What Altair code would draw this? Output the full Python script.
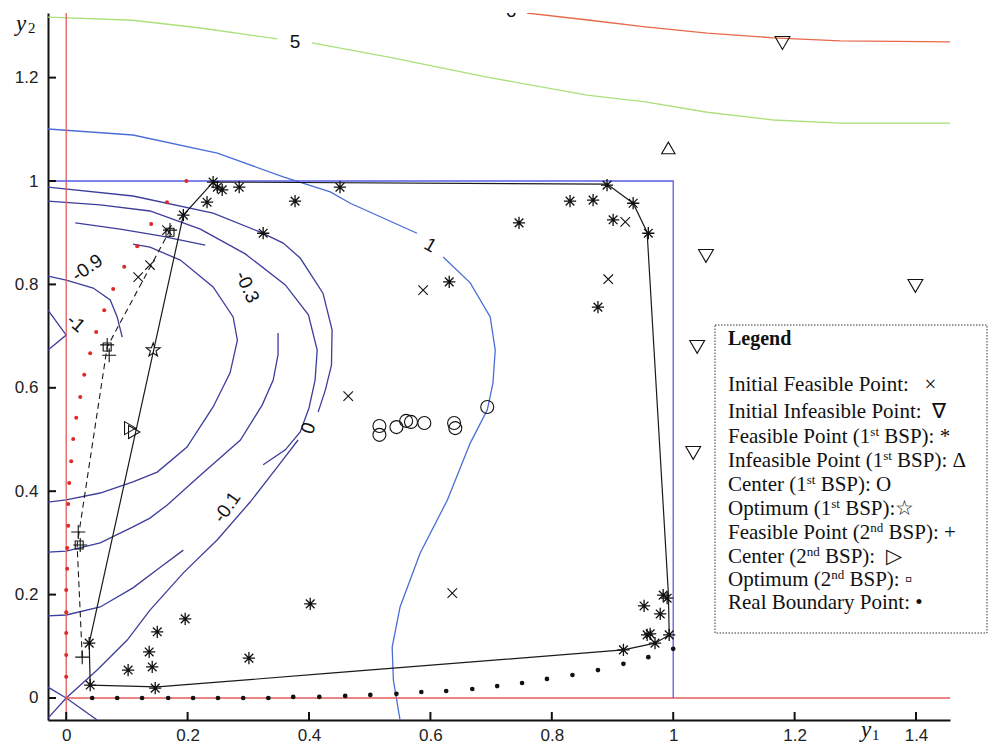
import altair as alt
import pandas as pd

# ---------------------------------------------------------------- axes
W, H = 902, 707
X_DOMAIN = [-0.03, 1.456]
Y_DOMAIN = [-0.0426, 1.325]
x_ticks = [0, 0.2, 0.4, 0.6, 0.8, 1, 1.2, 1.4]
y_ticks = [0, 0.2, 0.4, 0.6, 0.8, 1, 1.2]

# ---------------------------------------------------------------- contour levels (y1, y2)
# each level is split where its inline label interrupts the line
lvl_0_lower = [(-0.03, -0.039), (0, 0), (0.051, 0.054), (0.1005, 0.112), (0.138, 0.170),
               (0.193, 0.242), (0.249, 0.306), (0.303, 0.379), (0.348, 0.447), (0.382, 0.499)]
lvl_0_upper = [(0.415, 0.553), (0.427, 0.596), (0.437, 0.644), (0.438, 0.712), (0.423, 0.783),
               (0.3855, 0.851), (0.3575, 0.880), (0.320, 0.901), (0.242, 0.938), (0.110, 0.971),
               (-0.03, 0.988)]
lvl_0_cross = [(-0.03, 0.021), (0, 0), (0.051, -0.0426)]
lvl_m01_lower = [(-0.03, 0.159), (0, 0.1605), (0.056, 0.176), (0.110, 0.213), (0.155, 0.253),
                 (0.193, 0.286)]
lvl_m01_upper = [(0.3245, 0.451), (0.361, 0.480), (0.3855, 0.5145), (0.400, 0.561), (0.410, 0.615),
                 (0.4135, 0.673), (0.399, 0.741), (0.361, 0.799), (0.295, 0.859), (0.221, 0.907),
                 (0.138, 0.942), (0.056, 0.954), (-0.03, 0.961)]
lvl_m03_lower = [(-0.03, 0.282), (0, 0.284), (0.056, 0.300), (0.110, 0.331), (0.138, 0.348),
                 (0.166, 0.373), (0.221, 0.431), (0.287, 0.499), (0.323, 0.567), (0.341, 0.615),
                 (0.349, 0.664), (0.349, 0.706)]
lvl_m03_upper = [(0.229, 0.876), (0.155, 0.894), (0.089, 0.907), (0.015, 0.919)]
lvl_m05 = [(-0.03, 0.379), (0, 0.383), (0.056, 0.3965), (0.110, 0.418), (0.150, 0.437),
           (0.199, 0.4855), (0.242, 0.563), (0.270, 0.629), (0.282, 0.692), (0.275, 0.737),
           (0.242, 0.795), (0.188, 0.847), (0.138, 0.872), (0.110, 0.878)]
lvl_m09 = [(-0.03, 0.816), (0, 0.8085), (0.0445, 0.793), (0.0725, 0.770), (0.084, 0.737),
           (0.0923, 0.698)]
lvl_m1 = [(-0.03, 0.750), (0, 0.702), (-0.03, 0.673)]
lvl_1_a = [(-0.03, 1.1006), (0.110, 1.089), (0.249, 1.054), (0.3575, 1.008), (0.435, 0.979),
           (0.468, 0.957), (0.578, 0.899)]
lvl_1_b = [(0.621, 0.853), (0.6656, 0.803), (0.6985, 0.737), (0.7068, 0.673), (0.703, 0.609),
           (0.6936, 0.557), (0.6656, 0.493), (0.628, 0.383), (0.583, 0.280), (0.550, 0.176),
           (0.537, 0.0986), (0.539, 0.0348), (0.550, -0.0426)]
lvl_5_a = [(-0.03, 1.317), (0.110, 1.311), (0.221, 1.296), (0.348, 1.275)]
lvl_5_b = [(0.405, 1.267), (0.529, 1.240), (0.6936, 1.201), (0.858, 1.166), (0.954, 1.153),
           (1.056, 1.133), (1.165, 1.118), (1.275, 1.112), (1.46, 1.112)]
lvl_6 = [(0.759, 1.325), (0.863, 1.311), (0.954, 1.298), (1.056, 1.286), (1.165, 1.277),
         (1.275, 1.271), (1.46, 1.269)]

# constraint boundaries
bound_y1_zero = [(0, -0.0426), (0, 1.325)]
bound_y2_zero = [(0, 0), (1.456, 0)]
box_edge = [(-0.03, 1), (1, 1), (1, 0)]

# partition hulls: first BSP (solid) and second BSP (dashed)
bsp1_hull = [(0.242, 0.998), (0.891, 0.994), (0.934, 0.957), (0.957, 0.901), (0.992, 0.203),
             (0.9934, 0.122), (0.970, 0.106), (0.918, 0.093), (0.435, 0.048), (0.150, 0.0213),
             (0.0395, 0.025), (0.0379, 0.106), (0.193, 0.934), (0.242, 0.998)]
bsp2_path = [(0.0264, 0.079), (0.018, 0.296), (0.0675, 0.679), (0.171, 0.905)]

# ---------------------------------------------------------------- sample points
init_feasible = [(0.1186, 0.814), (0.138, 0.8375), (0.588, 0.789), (0.4646, 0.584),
                 (0.893, 0.810), (0.921, 0.921), (0.636, 0.203), (0.166, 0.905)]
init_infeasible = [(1.180, 1.267), (1.054, 0.855), (1.399, 0.797), (1.0395, 0.679), (1.033, 0.474)]
bsp1_feasible = [(0.242, 0.998), (0.249, 0.988), (0.257, 0.983), (0.285, 0.988), (0.232, 0.959),
                 (0.193, 0.934), (0.377, 0.961), (0.3245, 0.899), (0.451, 0.988), (0.631, 0.805),
                 (0.746, 0.919), (0.830, 0.961), (0.868, 0.963), (0.891, 0.992), (0.901, 0.925),
                 (0.934, 0.957), (0.959, 0.899), (0.876, 0.756),
                 (0.0379, 0.106), (0.0395, 0.025), (0.102, 0.054), (0.1367, 0.089), (0.1417, 0.060),
                 (0.1466, 0.019), (0.150, 0.128), (0.196, 0.153), (0.301, 0.077), (0.402, 0.182),
                 (0.9835, 0.199), (0.990, 0.193), (0.952, 0.178), (0.9786, 0.1625), (0.957, 0.122),
                 (0.962, 0.124), (0.970, 0.106), (0.9934, 0.122), (0.918, 0.093)]
bsp1_infeasible = [(0.992, 1.064)]
bsp1_center = [(0.516, 0.526), (0.516, 0.509), (0.544, 0.524), (0.560, 0.536), (0.568, 0.534),
               (0.590, 0.532), (0.639, 0.532), (0.641, 0.522), (0.6936, 0.563)]
bsp1_optimum = [(0.1433, 0.673)]
bsp2_feasible = [(0.0264, 0.079), (0.0198, 0.321), (0.0231, 0.296), (0.0675, 0.683),
                 (0.0708, 0.663), (0.171, 0.905)]
bsp2_center = [(0.1054, 0.522), (0.112, 0.5145)]
bsp2_optimum = [(0.0214, 0.296), (0.0675, 0.679), (0.171, 0.901)]
boundary_left = [(0.198, 1.000), (0.166, 0.959), (0.140, 0.917), (0.117, 0.874), (0.0956, 0.834),
                 (0.0774, 0.791), (0.0626, 0.750), (0.0494, 0.708), (0.0395, 0.667), (0.0297, 0.625),
                 (0.0231, 0.582), (0.0165, 0.542), (0.0115, 0.501), (0.0082, 0.458), (0.0049, 0.416),
                 (0.0033, 0.375), (0.0033, 0.333), (0.0016, 0.290), (0.0016, 0.250), (0, 0.209),
                 (0, 0.166), (0, 0.1257), (0, 0.083), (0, 0.041)]
boundary_bottom_y1 = [0.0428, 0.084, 0.125, 0.168, 0.209, 0.250, 0.2916, 0.333, 0.374, 0.417,
                      0.4596, 0.501, 0.544, 0.585, 0.626, 0.669, 0.710, 0.751, 0.792, 0.834,
                      0.876, 0.918, 0.959, 1.0]
boundary_bottom_y2 = [0, 0, 0, 0, 0, 0, 0, 0, 0.002, 0.002, 0.004, 0.006, 0.008, 0.0116, 0.0135,
                      0.0174, 0.023, 0.029, 0.0368, 0.0445, 0.054, 0.066, 0.079, 0.095]

# inline contour labels
label_text = ["-1", "-0.9", "-0.3", "-0.1", "0", "1", "5"]
label_y1 = [0.016, 0.0346, 0.298, 0.265, 0.399, 0.600, 0.377]
label_y2 = [0.725, 0.832, 0.795, 0.369, 0.522, 0.876, 1.269]
label_angle = [40, 325, 65, 305, 290, 30, 0]

# legend entries: (text before superscript, superscript, text after)
NB = "\u00a0"
legend_rows = [
    ("Initial Feasible Point:" + NB * 3 + "\u00d7", "", ""),
    ("Initial Infeasible Point:" + NB * 2 + "\u2207", "", ""),
    ("Feasible Point (1", "st", "BSP): *"),
    ("Infeasible Point (1", "st", "BSP): \u0394"),
    ("Center (1", "st", "BSP): O"),
    ("Optimum (1", "st", "BSP):\u2606"),
    ("Feasible Point (2", "nd", "BSP): +"),
    ("Center (2", "nd", "BSP):" + NB * 2 + "\u25b7"),
    ("Optimum (2", "nd", "BSP): \u25ab"),
    ("Real Boundary Point: \u2022", "", ""),
]
legend_py = [371, 398, 423, 447, 471, 495, 519, 543, 566, 589]

# ---------------------------------------------------------------- helpers
XS = alt.Scale(domain=X_DOMAIN, nice=False, zero=False)
YS = alt.Scale(domain=Y_DOMAIN, nice=False, zero=False)
SANS = "Liberation Sans"
SERIF = "Liberation Serif"
LEG_FS = 21
SUP_FS = 13

# Times-compatible advance widths (per 1000 em) for laying out superscripts
TIMES_W = {" ": 250, "(": 333, "1": 500, "2": 500, "C": 667, "F": 556, "I": 333, "O": 722,
           "P": 556, "a": 444, "b": 500, "d": 500, "e": 444, "f": 333, "i": 278, "l": 278,
           "m": 778, "n": 500, "o": 500, "p": 500, "r": 333, "s": 389, "t": 278, "u": 500}


def text_width(s, size):
    return sum(TIMES_W.get(ch, 500) for ch in s) * size / 1000.0


X_AXIS = alt.Axis(values=x_ticks, format="~g", title=None, ticks=False, grid=False,
                  domainColor="#111", domainWidth=2, labelFont=SANS, labelFontSize=17,
                  labelColor="#222", labelPadding=7, labelFlush=False)
Y_AXIS = alt.Axis(values=y_ticks, format="~g", title=None, ticks=False, grid=False,
                  domainColor="#111", domainWidth=2, labelFont=SANS, labelFontSize=17,
                  labelColor="#222", labelPadding=10, labelFlush=False)


def pts_df(pts):
    return pd.DataFrame(pts, columns=["y1", "y2"])


def path_df(pts):
    df = pts_df(pts)
    df["i"] = range(len(df))
    return df


def xy():
    return dict(x=alt.X("y1:Q", scale=XS, axis=X_AXIS), y=alt.Y("y2:Q", scale=YS, axis=Y_AXIS))


line_sets = [
    ("l0a", "dark", lvl_0_lower), ("l0b", "dark", lvl_0_upper), ("l0c", "dark", lvl_0_cross),
    ("m01a", "dark", lvl_m01_lower), ("m01b", "dark", lvl_m01_upper),
    ("m03a", "dark", lvl_m03_lower), ("m03b", "dark", lvl_m03_upper),
    ("m05", "dark", lvl_m05), ("m09", "dark", lvl_m09), ("m1", "dark", lvl_m1),
    ("l1a", "level1", lvl_1_a), ("l1b", "level1", lvl_1_b),
    ("l5a", "level5", lvl_5_a), ("l5b", "level5", lvl_5_b), ("l6", "level6", lvl_6),
    ("bx", "bound", bound_y1_zero), ("by", "bound", bound_y2_zero), ("box", "box", box_edge),
]
rows = []
for seg, style, pts in line_sets:
    for i, (a, b) in enumerate(pts):
        rows.append({"seg": seg, "style": style, "i": i, "y1": a, "y2": b})
lines_df = pd.DataFrame(rows)

contours = alt.Chart(lines_df).mark_line(strokeWidth=1.3, clip=True).encode(
    **xy(),
    color=alt.Color("style:N", legend=None, scale=alt.Scale(
        domain=["dark", "level1", "level5", "level6", "bound", "box"],
        range=["#3d3d9c", "#4a6ed6", "#abe07a", "#e8694a", "#e45c5c", "#5b5be6"])),
    detail="seg:N",
    order="i:Q",
)

hull = alt.Chart(path_df(bsp1_hull)).mark_line(color="#1a1a1a", strokeWidth=1.2).encode(
    **xy(), order="i:Q")
path2 = alt.Chart(path_df(bsp2_path)).mark_line(color="#1a1a1a", strokeWidth=1.1,
                                                strokeDash=[6, 4]).encode(**xy(), order="i:Q")

STAR8 = "M-1,0L1,0M0,-1L0,1M-0.71,-0.71L0.71,0.71M-0.71,0.71L0.71,-0.71"
XMARK = "M-1,-1L1,1M-1,1L1,-1"
PLUS = "M-1,0L1,0M0,-1L0,1"
STAR5 = ("M0,-1L0.235,-0.324L0.951,-0.309L0.380,0.124L0.588,0.809L0,0.4L-0.588,0.809"
         "L-0.380,0.124L-0.951,-0.309L-0.235,-0.324Z")


def markers(pts, shape, size, filled=False, color="#111", sw=1.1):
    return alt.Chart(pts_df(pts)).mark_point(
        shape=shape, size=size, filled=filled, color=color, strokeWidth=sw, opacity=1
    ).encode(**xy())


bottom_df = pd.DataFrame({"y1": boundary_bottom_y1, "y2": boundary_bottom_y2})
dots_bottom = alt.Chart(bottom_df).mark_circle(size=22, color="#111", opacity=1).encode(**xy())
dots_left = alt.Chart(pts_df(boundary_left)).mark_circle(size=16, color="#e02828", opacity=1).encode(**xy())

labels_df = pd.DataFrame({"y1": label_y1, "y2": label_y2, "txt": label_text, "ang": label_angle})
labels = alt.Chart(labels_df).mark_text(font=SANS, fontSize=19, color="#111").encode(
    **xy(), text="txt:N", angle=alt.Angle("ang:Q", scale=None))
label6 = alt.Chart(pd.DataFrame({"y1": [0.733], "y2": [1.31], "txt": ["6"]})).mark_text(
    font=SANS, fontSize=19, color="#111", baseline="bottom", clip=True).encode(**xy(), text="txt:N")

# inward tick marks on both axes
xt = alt.Chart(pd.DataFrame({"y1": x_ticks})).mark_rule(color="#111", strokeWidth=2).encode(
    x=alt.X("y1:Q", scale=XS, axis=X_AXIS), y=alt.value(H), y2=alt.value(H - 8))
yt = alt.Chart(pd.DataFrame({"y2": y_ticks})).mark_rule(color="#111", strokeWidth=2).encode(
    y=alt.Y("y2:Q", scale=YS, axis=Y_AXIS), x=alt.value(0), x2=alt.value(8))


def note(txt, px, py, **kw):
    return alt.Chart(pd.DataFrame({"k": [0]})).mark_text(**kw).encode(
        x=alt.value(px), y=alt.value(py), text=alt.value(txt))


t_y = note("y", -27, 18, font=SERIF, fontSize=23, fontStyle="italic", color="#111", baseline="alphabetic")
t_y2 = note("2", -20, 20, font=SERIF, fontSize=15, color="#111", align="left", baseline="alphabetic")
t_x = note("y", 818, 724, font=SERIF, fontSize=23, fontStyle="italic", color="#111", baseline="alphabetic")
t_x1 = note("1", 824, 727, font=SERIF, fontSize=15, color="#111", align="left", baseline="alphabetic")

LEG_X = 680
legend_box = alt.Chart(pd.DataFrame({"k": [0]})).mark_rect(
    fill="white", stroke="#333", strokeWidth=1, strokeDash=[1.5, 1.5]).encode(
    x=alt.value(667), x2=alt.value(939), y=alt.value(312), y2=alt.value(620))
legend_title = note("Legend", LEG_X, 326, font=SERIF, fontSize=20, fontWeight="bold",
                    color="#111", align="left")
legend_parts = []
for (pre, sup, post), py in zip(legend_rows, legend_py):
    legend_parts.append(note(pre, LEG_X, py, font=SERIF, fontSize=LEG_FS, color="#111",
                             align="left", baseline="alphabetic", dy=7))
    if sup:
        x_sup = LEG_X + text_width(pre, LEG_FS)
        legend_parts.append(note(sup, x_sup, py - 7, font=SERIF, fontSize=SUP_FS, color="#111",
                                 align="left", baseline="alphabetic", dy=7))
        x_post = x_sup + text_width(sup, SUP_FS) + text_width(" ", LEG_FS)
        legend_parts.append(note(post, x_post, py, font=SERIF, fontSize=LEG_FS, color="#111",
                                 align="left", baseline="alphabetic", dy=7))

chart = alt.layer(
    contours, hull, path2, dots_bottom, dots_left,
    markers(init_feasible, XMARK, 90),
    markers(init_infeasible, "triangle-down", 220),
    markers(bsp1_feasible, STAR8, 150, sw=1.3),
    markers(bsp1_infeasible, "triangle-up", 180),
    markers(bsp1_center, "circle", 169),
    markers(bsp1_optimum, STAR5, 210),
    markers(bsp2_feasible, PLUS, 196),
    markers(bsp2_center, "triangle-right", 170),
    markers(bsp2_optimum, "square", 64),
    labels, label6, xt, yt, t_y, t_y2, t_x, t_x1,
    legend_box, legend_title, *legend_parts,
).properties(
    width=W, height=H,
    autosize=alt.AutoSizeParams(type="none"),
    padding={"left": 48, "top": 13, "right": 40, "bottom": 29},
).configure_view(strokeWidth=0)

chart.save("out.html", embed_options={"renderer": "svg", "actions": False})
